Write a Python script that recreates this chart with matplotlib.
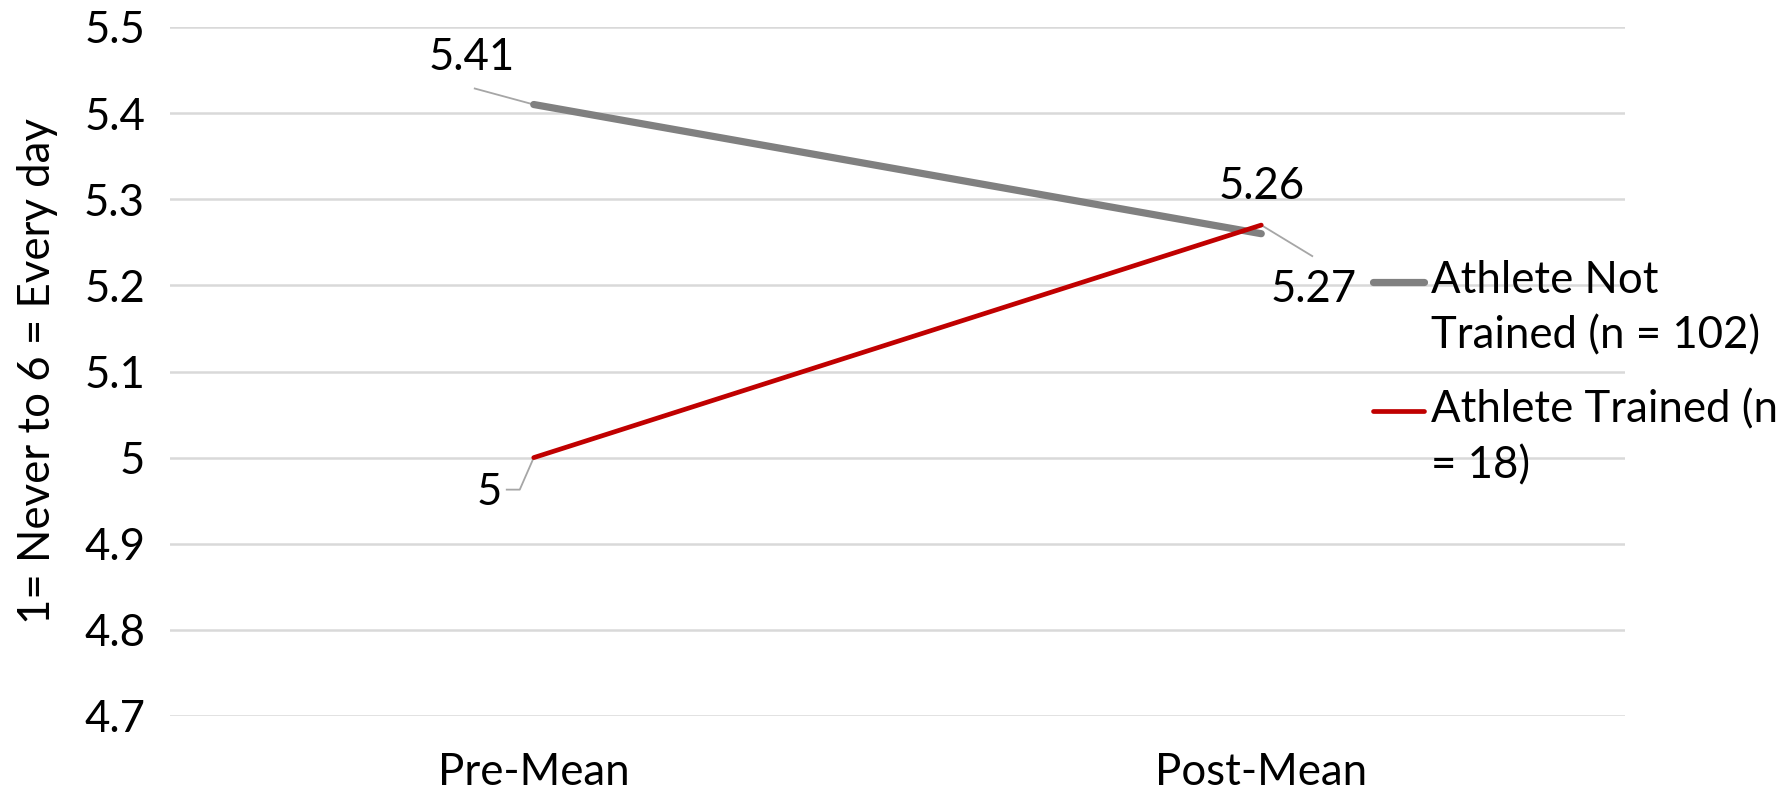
import matplotlib
matplotlib.use("Agg")
import matplotlib.pyplot as plt
from matplotlib.transforms import Affine2D

plt.rcParams['font.family'] = ['Lato', 'DejaVu Sans']

categories = ["Pre-Mean", "Post-Mean"]
series_names = ["Athlete Not Trained (n = 102)", "Athlete Trained (n = 18)"]
legend_labels = ["Athlete Not\nTrained (n = 102)", "Athlete Trained (n\n= 18)"]
not_trained = [5.41, 5.26]
trained = [5.00, 5.27]
y_ticks = [4.7, 4.8, 4.9, 5.0, 5.1, 5.2, 5.3, 5.4, 5.5]
y_tick_labels = ["4.7", "4.8", "4.9", "5", "5.1", "5.2", "5.3", "5.4", "5.5"]

W, H = 1779, 790
fig = plt.figure(figsize=(W / 100, H / 100), dpi=100)
ax = fig.add_axes([170 / W, 1 - 716 / H, (1625 - 170) / W, (716 - 27) / H])

GRAY = "#808080"
RED = "#C00000"
LEAD = "#A6A6A6"
FS = 31.5

x = list(range(len(categories)))
ax.plot(x, not_trained, color=GRAY, lw=5.2, solid_capstyle='round', zorder=3)
ax.plot(x, trained, color=RED, lw=3.4, solid_capstyle='round', zorder=4)

ax.set_xlim(-0.5, 1.5)
ax.set_ylim(4.7, 5.5)
ax.set_yticks(y_ticks)
ax.set_yticklabels(y_tick_labels)
ax.set_xticks(x)
ax.set_xticklabels(categories)
ax.tick_params(axis='both', length=0, labelsize=FS, colors='black')
ax.tick_params(axis='y', pad=18)
ax.tick_params(axis='x', pad=26)
ax.grid(axis='y', color='#D9D9D9', lw=1.8)
ax.set_axisbelow(True)
for s in ax.spines.values():
    s.set_visible(False)
ax.set_ylabel("1= Never to 6 = Every day", fontsize=FS, labelpad=19)


def label(xv, yv, txt, off):
    ax.annotate(txt, xy=(xv, yv), xytext=off, textcoords='offset pixels',
                ha='center', va='center', fontsize=FS, zorder=6)


def leader(xv, yv, pts):
    # polyline of pixel offsets from the data point (fixed layout, fixed dpi)
    px, py = ax.transData.transform((xv, yv))
    tr = Affine2D().translate(px, py)
    xs = [p[0] for p in pts]
    ys = [p[1] for p in pts]
    ax.add_line(plt.Line2D(xs, ys, color=LEAD, lw=1.3, transform=tr, zorder=2))


# Not trained labels
label(x[0], not_trained[0], "5.41", (-62, 47))
leader(x[0], not_trained[0], [(-59, 16), (0, 0)])
label(x[1], not_trained[1], "5.26", (0, 47))

# Trained labels
label(x[0], trained[0], "5", (-45, -35))
leader(x[0], trained[0], [(-27, -32), (-14, -32), (0, 0)])
label(x[1], trained[1], "5.27", (52, -64))
leader(x[1], trained[1], [(51, -31), (0, 0)])

# Legend (manual, matching the wrapped layout)
entries = [(GRAY, 5.2, legend_labels[0], 282), (RED, 3.4, legend_labels[1], 411)]
for col, lw, txt, py in entries:
    fig.add_artist(plt.Line2D([1373 / W, 1424 / W], [1 - py / H, 1 - py / H],
                              color=col, lw=lw, solid_capstyle='round',
                              transform=fig.transFigure))
    fig.text(1431 / W, 1 - (py - 22) / H, txt, ha='left', va='top',
             fontsize=FS, linespacing=1.44)

fig.savefig("out.png", dpi=100, facecolor='white')
